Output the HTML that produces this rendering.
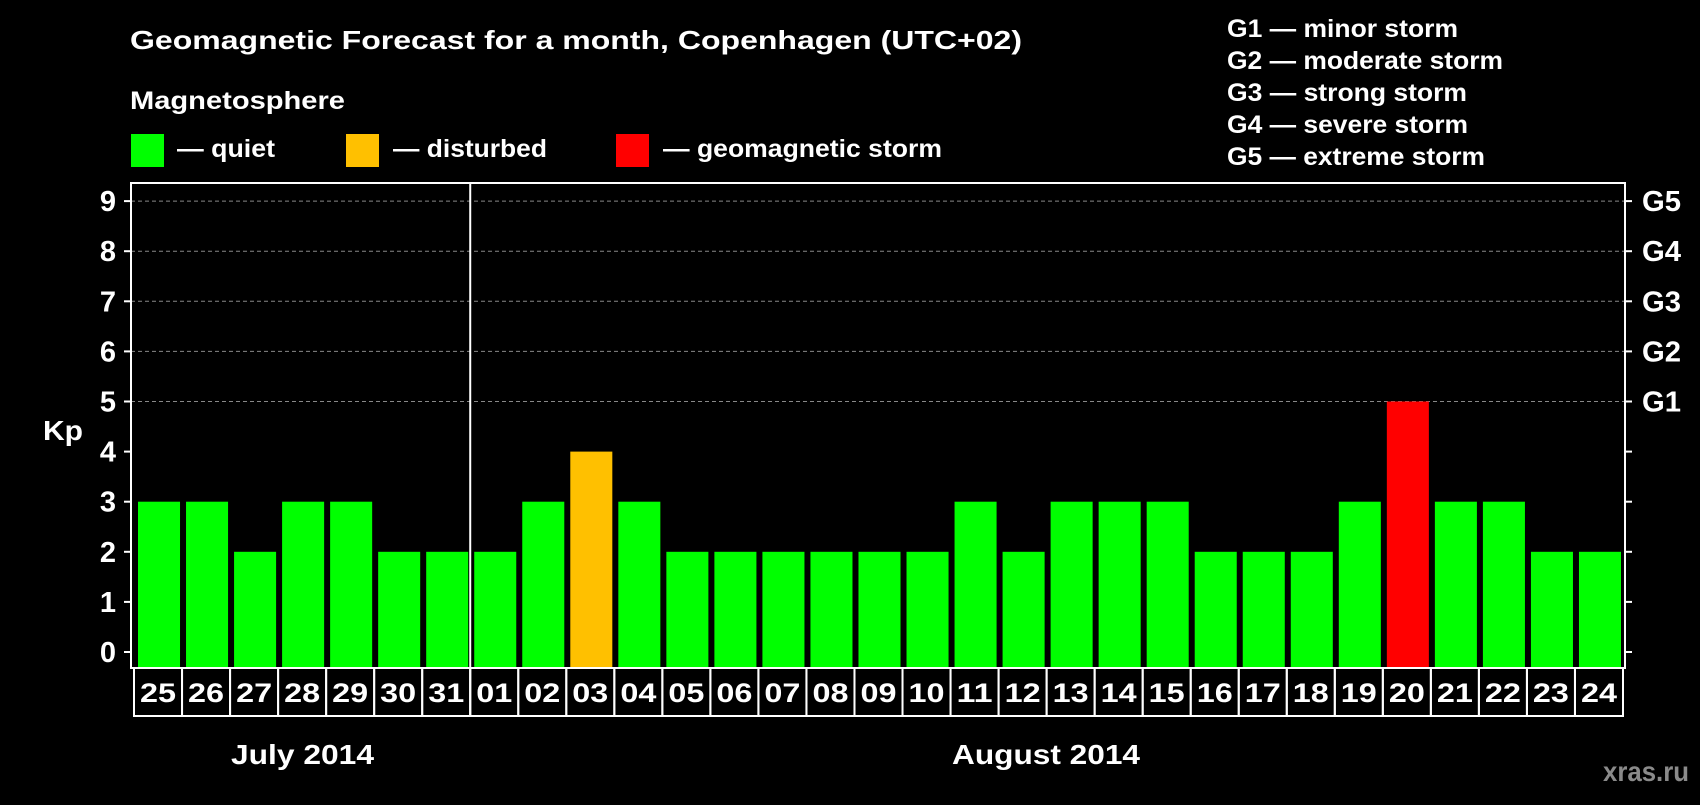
<!DOCTYPE html>
<html><head><meta charset="utf-8"><style>
body{margin:0;background:#000;width:1700px;height:800px;overflow:hidden}
svg text{font-family:"Liberation Sans",Arial,sans-serif;font-weight:bold;fill:#fff}
</style></head><body>
<svg id="c" width="1700" height="800" xmlns="http://www.w3.org/2000/svg">
<text x="130" y="49" font-size="26" textLength="892" lengthAdjust="spacingAndGlyphs">Geomagnetic Forecast for a month, Copenhagen (UTC+02)</text>
<text x="130" y="109" font-size="25" textLength="215" lengthAdjust="spacingAndGlyphs">Magnetosphere</text>
<rect x="131" y="134" width="33" height="33" fill="#00ff00"/>
<text x="177" y="157" font-size="25" textLength="98" lengthAdjust="spacingAndGlyphs">— quiet</text>
<rect x="346" y="134" width="33" height="33" fill="#ffc000"/>
<text x="393" y="157" font-size="25" textLength="154" lengthAdjust="spacingAndGlyphs">— disturbed</text>
<rect x="616" y="134" width="33" height="33" fill="#ff0000"/>
<text x="663" y="157" font-size="25" textLength="279" lengthAdjust="spacingAndGlyphs">— geomagnetic storm</text>
<g font-size="25">
<text x="1227" y="37" textLength="231" lengthAdjust="spacingAndGlyphs">G1 — minor storm</text>
<text x="1227" y="69" textLength="276" lengthAdjust="spacingAndGlyphs">G2 — moderate storm</text>
<text x="1227" y="101" textLength="240" lengthAdjust="spacingAndGlyphs">G3 — strong storm</text>
<text x="1227" y="133" textLength="241" lengthAdjust="spacingAndGlyphs">G4 — severe storm</text>
<text x="1227" y="165" textLength="258" lengthAdjust="spacingAndGlyphs">G5 — extreme storm</text>
</g>
<text x="43" y="440" font-size="28" textLength="40" lengthAdjust="spacingAndGlyphs">Kp</text>
<text x="231" y="764" font-size="28" textLength="143" lengthAdjust="spacingAndGlyphs">July 2014</text>
<text x="952" y="764" font-size="28" textLength="188" lengthAdjust="spacingAndGlyphs">August 2014</text>
<text x="1603" y="781" font-size="28" textLength="86" lengthAdjust="spacingAndGlyphs" style="fill:#8a8a8a">xras.ru</text>
<g id="plot"></g>
</svg>
<script>
const days=["25","26","27","28","29","30","31","01","02","03","04","05","06","07","08","09","10","11","12","13","14","15","16","17","18","19","20","21","22","23","24"];
const kp=[3,3,2,3,3,2,2,2,3,4,3,2,2,2,2,2,2,3,2,3,3,3,2,2,2,3,5,3,3,2,2];
const yTicks=[0,1,2,3,4,5,6,7,8,9];
const gLabels=["G1","G2","G3","G4","G5"];
const gLevels=[5,6,7,8,9];
const NS="http://www.w3.org/2000/svg";
const g=document.getElementById('plot');
const L=131,R=1625,T=183,B=668,bx0=134,bx1=1623;
const y=v=>652-v*50.1;
const slot=(bx1-bx0)/days.length;
const x=i=>bx0+i*slot;
function mk(t,a){const e=document.createElementNS(NS,t);for(const k in a)e.setAttribute(k,a[k]);g.appendChild(e);return e;}
yTicks.forEach(v=>{
 if(v>=5){const l=mk('line',{x1:L,x2:R,y1:y(v),y2:y(v),stroke:'#888','stroke-dasharray':'4,3','stroke-width':1});
 
 }
 const t=mk('line',{x1:L-7,x2:L,y1:y(v),y2:y(v),stroke:'#fff','stroke-width':2});
 
 
 const t2=mk('line',{x1:R,x2:R+7,y1:y(v),y2:y(v),stroke:'#fff','stroke-width':2});
 
 
 const tx=mk('text',{x:116,y:y(v)+10,'font-size':29,'text-anchor':'end'});tx.textContent=v;
 
 
});
gLabels.forEach((s,i)=>{const tx=mk('text',{x:1642,y:y(gLevels[i])+10,'font-size':29,textLength:39,lengthAdjust:'spacingAndGlyphs'});tx.textContent=s;
 
 });
kp.forEach((v,i)=>{
 const c=v>=5?'#ff0000':v>=4?'#ffc000':'#00ff00';
 const r=mk('rect',{x:x(i)+4,y:y(v),width:slot-6,height:B-y(v),fill:c});
 
 
 const b=mk('rect',{x:x(i),y:B,width:slot,height:48,fill:'none',stroke:'#fff','stroke-width':2});
 
 
 const t=mk('text',{x:x(i)+slot/2-18,y:B+34,'font-size':27,textLength:36,lengthAdjust:'spacingAndGlyphs'});t.textContent=days[i];
 
 
});
const f=mk('rect',{x:L,y:T,width:R-L,height:B-T,fill:'none',stroke:'#fff','stroke-width':2});


const d=mk('line',{x1:x(7),x2:x(7),y1:T,y2:B+48,stroke:'#fff','stroke-width':2});


</script>
</body></html>
